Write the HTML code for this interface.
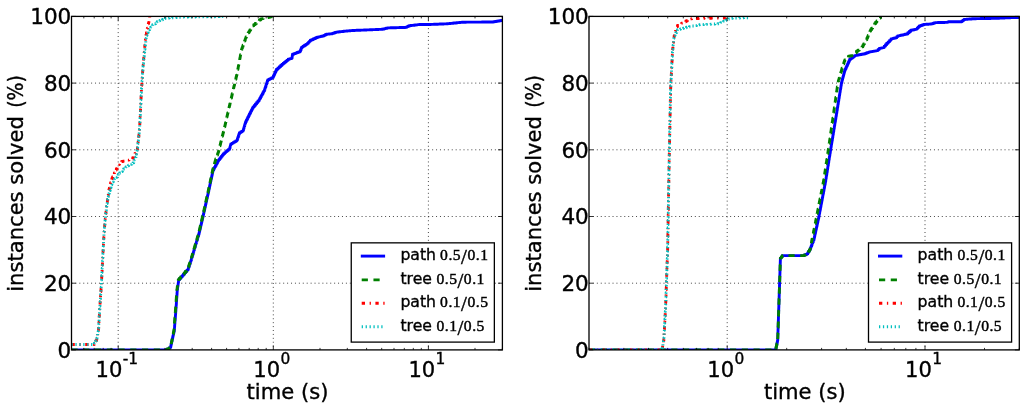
<!DOCTYPE html>
<html><head><meta charset="utf-8"><title>instances solved vs time</title>
<style>html,body{margin:0;padding:0;background:#fff;overflow:hidden}svg{display:block}text{font-family:"DejaVu Sans","Liberation Sans",sans-serif;fill:#000;stroke:#000;stroke-width:0.35px}.num{font-family:"Liberation Serif","DejaVu Serif",serif;stroke-width:0.45px}</style></head><body>
<svg width="1024" height="406" viewBox="0 0 1024 406">
<rect width="1024" height="406" fill="#fff"/>
<g id="ax0">
<path d="M71.5,283.2H502.4M71.5,216.5H502.4M71.5,149.8H502.4M71.5,83.1H502.4M118.2,16.4V349.9M273.3,16.4V349.9M428.4,16.4V349.9" fill="none" stroke="#000" stroke-width="0.8" stroke-dasharray="1 2.92" opacity="0.9"/>
<clipPath id="cp0"><rect x="71.5" y="16.4" width="430.85" height="333.50"/></clipPath>
<g clip-path="url(#cp0)" fill="none" stroke-linejoin="round">
<polyline points="71.50,349.90 165.50,349.90 166.72,349.90 166.72,349.27 167.95,349.27 167.95,348.65 169.18,348.65 169.18,348.02 170.40,348.02 170.40,347.40 170.72,347.40 170.72,345.92 171.05,345.92 171.05,344.45 171.38,344.45 171.38,342.97 171.70,342.97 171.70,341.50 172.03,341.50 172.03,340.02 172.35,340.02 172.35,338.55 172.68,338.55 172.68,337.07 173.00,337.07 173.00,335.60 173.33,335.60 173.33,334.12 173.65,334.12 173.65,332.65 173.98,332.65 173.98,331.18 174.30,331.18 174.30,329.70 174.41,329.70 174.41,328.23 174.53,328.23 174.53,326.76 174.64,326.76 174.64,325.29 174.76,325.29 174.76,323.81 174.87,323.81 174.87,322.34 174.99,322.34 174.99,320.87 175.10,320.87 175.10,319.40 175.21,319.40 175.21,317.93 175.33,317.93 175.33,316.46 175.44,316.46 175.44,314.99 175.56,314.99 175.56,313.51 175.67,313.51 175.67,312.04 175.79,312.04 175.79,310.57 175.90,310.57 175.90,309.10 176.00,309.10 176.00,307.69 176.10,307.69 176.10,306.29 176.20,306.29 176.20,304.88 176.30,304.88 176.30,303.47 176.40,303.47 176.40,302.06 176.50,302.06 176.50,300.66 176.60,300.66 176.60,299.25 176.70,299.25 176.70,297.84 176.80,297.84 176.80,296.44 176.90,296.44 176.90,295.03 177.00,295.03 177.00,293.62 177.10,293.62 177.10,292.21 177.20,292.21 177.20,290.81 177.30,290.81 177.30,289.40 177.50,289.40 177.50,288.00 177.70,288.00 177.70,286.60 177.90,286.60 177.90,285.20 178.10,285.20 178.10,283.80 178.30,283.80 178.30,282.40 178.50,282.40 178.50,281.00 178.70,281.00 178.70,279.60 179.87,279.60 179.87,278.27 181.03,278.27 181.03,276.93 182.20,276.93 182.20,275.60 183.38,275.60 183.38,274.22 184.56,274.22 184.56,272.84 185.74,272.84 185.74,271.46 186.92,271.46 186.92,270.08 188.10,270.08 188.10,268.70 188.60,268.70 188.60,267.23 189.10,267.23 189.10,265.77 189.60,265.77 189.60,264.30 190.10,264.30 190.10,262.83 190.60,262.83 190.60,261.37 191.10,261.37 191.10,259.90 191.51,259.90 191.51,258.49 191.93,258.49 191.93,257.07 192.34,257.07 192.34,255.66 192.76,255.66 192.76,254.24 193.17,254.24 193.17,252.83 193.59,252.83 193.59,251.41 194.00,251.41 194.00,250.00 194.42,250.00 194.42,248.59 194.83,248.59 194.83,247.18 195.25,247.18 195.25,245.78 195.67,245.78 195.67,244.37 196.08,244.37 196.08,242.96 196.50,242.96 196.50,241.55 196.92,241.55 196.92,240.14 197.33,240.14 197.33,238.73 197.75,238.73 197.75,237.32 198.17,237.32 198.17,235.92 198.58,235.92 198.58,234.51 199.00,234.51 199.00,233.10 199.32,233.10 199.32,231.70 199.65,231.70 199.65,230.30 199.97,230.30 199.97,228.90 200.30,228.90 200.30,227.50 200.62,227.50 200.62,226.10 200.95,226.10 200.95,224.70 201.28,224.70 201.28,223.30 201.60,223.30 201.60,221.90 201.93,221.90 201.93,220.50 202.25,220.50 202.25,219.10 202.58,219.10 202.58,217.70 202.90,217.70 202.90,216.30 203.23,216.30 203.23,214.82 203.56,214.82 203.56,213.34 203.88,213.34 203.88,211.87 204.21,211.87 204.21,210.39 204.54,210.39 204.54,208.91 204.87,208.91 204.87,207.43 205.19,207.43 205.19,205.96 205.52,205.96 205.52,204.48 205.85,204.48 205.85,203.00 206.18,203.00 206.18,201.52 206.51,201.52 206.51,200.04 206.83,200.04 206.83,198.57 207.16,198.57 207.16,197.09 207.49,197.09 207.49,195.61 207.82,195.61 207.82,194.13 208.14,194.13 208.14,192.66 208.47,192.66 208.47,191.18 208.80,191.18 208.80,189.70 209.10,189.70 209.10,188.29 209.40,188.29 209.40,186.89 209.70,186.89 209.70,185.48 210.00,185.48 210.00,184.07 210.30,184.07 210.30,182.66 210.60,182.66 210.60,181.26 210.90,181.26 210.90,179.85 211.20,179.85 211.20,178.44 211.50,178.44 211.50,177.04 211.80,177.04 211.80,175.63 212.10,175.63 212.10,174.22 212.40,174.22 212.40,172.81 212.70,172.81 212.70,171.41 213.00,171.41 213.00,170.00 213.79,170.00 213.79,168.56 214.57,168.56 214.57,167.11 215.36,167.11 215.36,165.67 216.14,165.67 216.14,164.23 216.93,164.23 216.93,162.79 217.71,162.79 217.71,161.34 218.50,161.34 218.50,159.90 219.48,159.90 219.48,158.66 220.46,158.66 220.46,157.42 221.44,157.42 221.44,156.18 222.42,156.18 222.42,154.94 223.40,154.94 223.40,153.70 224.64,153.70 224.64,152.62 225.88,152.62 225.88,151.54 227.12,151.54 227.12,150.46 228.36,150.46 228.36,149.38 229.60,149.38 229.60,148.30 230.00,148.30 230.00,146.83 230.40,146.83 230.40,145.37 230.80,145.37 230.80,143.90 232.02,143.90 232.02,143.16 233.24,143.16 233.24,142.42 234.46,142.42 234.46,141.68 235.68,141.68 235.68,140.94 236.90,140.94 236.90,140.20 237.40,140.20 237.40,138.72 237.90,138.72 237.90,137.24 238.40,137.24 238.40,135.76 238.90,135.76 238.90,134.28 239.40,134.28 239.40,132.80 240.63,132.80 240.63,131.97 241.87,131.97 241.87,131.13 243.10,131.13 243.10,130.30 243.52,130.30 243.52,128.87 243.93,128.87 243.93,127.43 244.35,127.43 244.35,126.00 244.77,126.00 244.77,124.57 245.18,124.57 245.18,123.13 245.60,123.13 245.60,121.70 246.34,121.70 246.34,120.22 247.08,120.22 247.08,118.74 247.82,118.74 247.82,117.26 248.56,117.26 248.56,115.78 249.30,115.78 249.30,114.30 250.04,114.30 250.04,112.82 250.78,112.82 250.78,111.34 251.52,111.34 251.52,109.86 252.26,109.86 252.26,108.38 253.00,108.38 253.00,106.90 254.22,106.90 254.22,105.44 255.44,105.44 255.44,103.98 256.66,103.98 256.66,102.52 257.88,102.52 257.88,101.06 259.10,101.06 259.10,99.60 259.87,99.60 259.87,98.19 260.64,98.19 260.64,96.77 261.41,96.77 261.41,95.36 262.19,95.36 262.19,93.94 262.96,93.94 262.96,92.53 263.73,92.53 263.73,91.11 264.50,91.11 264.50,89.70 264.96,89.70 264.96,88.30 265.41,88.30 265.41,86.90 265.87,86.90 265.87,85.50 266.33,85.50 266.33,84.10 266.79,84.10 266.79,82.70 267.24,82.70 267.24,81.30 267.70,81.30 267.70,79.90 268.95,79.90 268.95,79.28 270.20,79.28 270.20,78.65 271.45,78.65 271.45,78.03 272.70,78.03 272.70,77.40 273.33,77.40 273.33,76.05 273.97,76.05 273.97,74.70 274.60,74.70 274.60,73.35 275.23,73.35 275.23,72.00 275.87,72.00 275.87,70.65 276.50,70.65 276.50,69.30 277.88,69.30 277.88,68.05 279.25,68.05 279.25,66.80 280.62,66.80 280.62,65.55 282.00,65.55 282.00,64.30 283.24,64.30 283.24,63.28 284.48,63.28 284.48,62.26 285.72,62.26 285.72,61.24 286.96,61.24 286.96,60.22 288.20,60.22 288.20,59.20 289.43,59.20 289.43,58.87 290.67,58.87 290.67,58.53 291.90,58.53 291.90,58.20 292.10,58.20 292.10,56.87 292.30,56.87 292.30,55.53 292.50,55.53 292.50,54.20 293.98,54.20 293.98,53.64 295.46,53.64 295.46,53.08 296.94,53.08 296.94,52.52 298.42,52.52 298.42,51.96 299.90,51.96 299.90,51.40 300.50,51.40 300.50,49.97 301.10,49.97 301.10,48.53 301.70,48.53 301.70,47.10 303.10,47.10 303.10,46.17 304.50,46.17 304.50,45.25 305.90,45.25 305.90,44.33 307.30,44.33 307.30,43.40 308.30,43.40 308.30,42.37 309.30,42.37 309.30,41.33 310.30,41.33 310.30,40.30 311.66,40.30 311.66,39.68 313.02,39.68 313.02,39.06 314.38,39.06 314.38,38.44 315.74,38.44 315.74,37.82 317.10,37.82 317.10,37.20 318.50,37.20 318.50,36.90 319.90,36.90 319.90,36.60 321.30,36.60 321.30,36.30 322.70,36.30 322.70,36.00 323.93,36.00 323.93,35.40 325.17,35.40 325.17,34.80 326.40,34.80 326.40,34.20 327.62,34.20 327.62,34.10 328.85,34.10 328.85,34.00 330.07,34.00 330.07,33.90 331.30,33.90 331.30,33.80 332.52,33.80 332.52,33.38 333.75,33.38 333.75,32.95 334.98,32.95 334.98,32.52 336.20,32.52 336.20,32.10 337.68,32.10 337.68,31.94 339.16,31.94 339.16,31.78 340.64,31.78 340.64,31.62 342.12,31.62 342.12,31.46 343.60,31.46 343.60,31.30 345.02,31.30 345.02,31.17 346.43,31.17 346.43,31.03 347.85,31.03 347.85,30.90 349.27,30.90 349.27,30.77 350.68,30.77 350.68,30.63 352.10,30.63 352.10,30.50 353.58,30.50 353.58,30.44 355.05,30.44 355.05,30.38 356.53,30.38 356.53,30.32 358.00,30.32 358.00,30.26 359.48,30.26 359.48,30.20 360.95,30.20 360.95,30.14 362.43,30.14 362.43,30.08 363.90,30.08 363.90,30.02 365.38,30.02 365.38,29.96 366.85,29.96 366.85,29.90 368.33,29.90 368.33,29.84 369.80,29.84 369.80,29.78 371.28,29.78 371.28,29.72 372.75,29.72 372.75,29.66 374.23,29.66 374.23,29.60 375.70,29.60 375.70,29.54 377.18,29.54 377.18,29.48 378.65,29.48 378.65,29.42 380.12,29.42 380.12,29.36 381.60,29.36 381.60,29.30 383.08,29.30 383.08,28.95 384.55,28.95 384.55,28.60 386.02,28.60 386.02,28.25 387.50,28.25 387.50,27.90 388.99,27.90 388.99,27.86 390.48,27.86 390.48,27.82 391.98,27.82 391.98,27.77 393.47,27.77 393.47,27.73 394.96,27.73 394.96,27.69 396.45,27.69 396.45,27.65 397.94,27.65 397.94,27.61 399.43,27.61 399.43,27.57 400.92,27.57 400.92,27.52 402.42,27.52 402.42,27.48 403.91,27.48 403.91,27.44 405.40,27.44 405.40,27.40 406.63,27.40 406.63,26.83 407.87,26.83 407.87,26.27 409.10,26.27 409.10,25.70 410.54,25.70 410.54,25.53 411.99,25.53 411.99,25.36 413.43,25.36 413.43,25.19 414.87,25.19 414.87,25.01 416.31,25.01 416.31,24.84 417.76,24.84 417.76,24.67 419.20,24.67 419.20,24.50 428.20,24.50 429.63,24.50 429.63,24.45 431.06,24.45 431.06,24.39 432.49,24.39 432.49,24.34 433.92,24.34 433.92,24.28 435.35,24.28 435.35,24.23 436.78,24.23 436.78,24.18 438.22,24.18 438.22,24.12 439.65,24.12 439.65,24.07 441.08,24.07 441.08,24.02 442.51,24.02 442.51,23.96 443.94,23.96 443.94,23.91 445.37,23.91 445.37,23.85 446.80,23.85 446.80,23.80 448.17,23.80 448.17,23.65 449.55,23.65 449.55,23.51 450.92,23.51 450.92,23.36 452.29,23.36 452.29,23.22 453.66,23.22 453.66,23.07 455.04,23.07 455.04,22.93 456.41,22.93 456.41,22.78 457.78,22.78 457.78,22.64 459.15,22.64 459.15,22.49 460.53,22.49 460.53,22.35 461.90,22.35 461.90,22.20 463.33,22.20 463.33,22.19 464.77,22.19 464.77,22.18 466.20,22.18 466.20,22.17 467.63,22.17 467.63,22.16 469.07,22.16 469.07,22.15 470.50,22.15 470.50,22.14 471.93,22.14 471.93,22.13 473.37,22.13 473.37,22.12 474.80,22.12 474.80,22.11 476.23,22.11 476.23,22.10 477.67,22.10 477.67,22.10 479.10,22.10 479.10,22.09 480.53,22.09 480.53,22.08 481.97,22.08 481.97,22.07 483.40,22.07 483.40,22.06 484.83,22.06 484.83,22.05 486.27,22.05 486.27,22.04 487.70,22.04 487.70,22.03 489.13,22.03 489.13,22.02 490.57,22.02 490.57,22.01 492.00,22.01 492.00,22.00 493.50,22.00 493.50,21.76 495.00,21.76 495.00,21.51 496.50,21.51 496.50,21.27 498.00,21.27 498.00,21.03 499.50,21.03 499.50,20.79 501.00,20.79 501.00,20.54 502.50,20.54 502.50,20.30" stroke="#0000ff" stroke-width="2.9"/>
<polyline points="71.50,349.90 165.50,349.90 166.72,349.90 166.72,349.27 167.95,349.27 167.95,348.65 169.18,348.65 169.18,348.02 170.40,348.02 170.40,347.40 170.69,347.40 170.69,345.92 170.98,345.92 170.98,344.45 171.28,344.45 171.28,342.97 171.57,342.97 171.57,341.50 171.86,341.50 171.86,340.02 172.15,340.02 172.15,338.55 172.44,338.55 172.44,337.07 172.73,337.07 172.73,335.60 173.03,335.60 173.03,334.12 173.32,334.12 173.32,332.65 173.61,332.65 173.61,331.18 173.90,331.18 173.90,329.70 174.01,329.70 174.01,328.23 174.13,328.23 174.13,326.76 174.24,326.76 174.24,325.29 174.36,325.29 174.36,323.81 174.47,323.81 174.47,322.34 174.59,322.34 174.59,320.87 174.70,320.87 174.70,319.40 174.81,319.40 174.81,317.93 174.93,317.93 174.93,316.46 175.04,316.46 175.04,314.99 175.16,314.99 175.16,313.51 175.27,313.51 175.27,312.04 175.39,312.04 175.39,310.57 175.50,310.57 175.50,309.10 175.60,309.10 175.60,307.69 175.70,307.69 175.70,306.29 175.80,306.29 175.80,304.88 175.90,304.88 175.90,303.47 176.00,303.47 176.00,302.06 176.10,302.06 176.10,300.66 176.20,300.66 176.20,299.25 176.30,299.25 176.30,297.84 176.40,297.84 176.40,296.44 176.50,296.44 176.50,295.03 176.60,295.03 176.60,293.62 176.70,293.62 176.70,292.21 176.80,292.21 176.80,290.81 176.90,290.81 176.90,289.40 177.10,289.40 177.10,288.00 177.30,288.00 177.30,286.60 177.50,286.60 177.50,285.20 177.70,285.20 177.70,283.80 177.90,283.80 177.90,282.40 178.10,282.40 178.10,281.00 178.30,281.00 178.30,279.60 179.47,279.60 179.47,278.27 180.63,278.27 180.63,276.93 181.80,276.93 181.80,275.60 182.98,275.60 182.98,274.22 184.16,274.22 184.16,272.84 185.34,272.84 185.34,271.46 186.52,271.46 186.52,270.08 187.70,270.08 187.70,268.70 188.20,268.70 188.20,267.23 188.70,267.23 188.70,265.77 189.20,265.77 189.20,264.30 189.70,264.30 189.70,262.83 190.20,262.83 190.20,261.37 190.70,261.37 190.70,259.90 191.11,259.90 191.11,258.49 191.53,258.49 191.53,257.07 191.94,257.07 191.94,255.66 192.36,255.66 192.36,254.24 192.77,254.24 192.77,252.83 193.19,252.83 193.19,251.41 193.60,251.41 193.60,250.00 194.02,250.00 194.02,248.59 194.43,248.59 194.43,247.18 194.85,247.18 194.85,245.78 195.27,245.78 195.27,244.37 195.68,244.37 195.68,242.96 196.10,242.96 196.10,241.55 196.52,241.55 196.52,240.14 196.93,240.14 196.93,238.73 197.35,238.73 197.35,237.32 197.77,237.32 197.77,235.92 198.18,235.92 198.18,234.51 198.60,234.51 198.60,233.10 198.92,233.10 198.92,231.70 199.25,231.70 199.25,230.30 199.57,230.30 199.57,228.90 199.90,228.90 199.90,227.50 200.22,227.50 200.22,226.10 200.55,226.10 200.55,224.70 200.88,224.70 200.88,223.30 201.20,223.30 201.20,221.90 201.53,221.90 201.53,220.50 201.85,220.50 201.85,219.10 202.18,219.10 202.18,217.70 202.50,217.70 202.50,216.30 202.83,216.30 202.83,214.82 203.16,214.82 203.16,213.34 203.48,213.34 203.48,211.87 203.81,211.87 203.81,210.39 204.14,210.39 204.14,208.91 204.47,208.91 204.47,207.43 204.79,207.43 204.79,205.96 205.12,205.96 205.12,204.48 205.45,204.48 205.45,203.00 205.78,203.00 205.78,201.52 206.11,201.52 206.11,200.04 206.43,200.04 206.43,198.57 206.76,198.57 206.76,197.09 207.09,197.09 207.09,195.61 207.42,195.61 207.42,194.13 207.74,194.13 207.74,192.66 208.07,192.66 208.07,191.18 208.40,191.18 208.40,189.70 208.70,189.70 208.70,188.29 209.00,188.29 209.00,186.89 209.30,186.89 209.30,185.48 209.60,185.48 209.60,184.07 209.90,184.07 209.90,182.66 210.20,182.66 210.20,181.26 210.50,181.26 210.50,179.85 210.80,179.85 210.80,178.44 211.10,178.44 211.10,177.04 211.40,177.04 211.40,175.63 211.70,175.63 211.70,174.22 212.00,174.22 212.00,172.81 212.30,172.81 212.30,171.41 212.60,171.41 212.60,170.00 212.99,170.00 212.99,168.62 213.38,168.62 213.38,167.25 213.76,167.25 213.76,165.88 214.15,165.88 214.15,164.50 214.54,164.50 214.54,163.12 214.92,163.12 214.92,161.75 215.31,161.75 215.31,160.38 215.70,160.38 215.70,159.00 216.17,159.00 216.17,157.72 216.63,157.72 216.63,156.43 217.10,156.43 217.10,155.15 217.57,155.15 217.57,153.87 218.03,153.87 218.03,152.58 218.50,152.58 218.50,151.30 218.83,151.30 218.83,149.93 219.17,149.93 219.17,148.57 219.50,148.57 219.50,147.20 219.83,147.20 219.83,145.83 220.17,145.83 220.17,144.47 220.50,144.47 220.50,143.10 220.83,143.10 220.83,141.73 221.17,141.73 221.17,140.37 221.50,140.37 221.50,139.00 221.84,139.00 221.84,137.63 222.19,137.63 222.19,136.27 222.53,136.27 222.53,134.90 222.88,134.90 222.88,133.53 223.22,133.53 223.22,132.17 223.57,132.17 223.57,130.80 223.91,130.80 223.91,129.43 224.26,129.43 224.26,128.07 224.60,128.07 224.60,126.70 224.91,126.70 224.91,125.33 225.22,125.33 225.22,123.96 225.53,123.96 225.53,122.59 225.84,122.59 225.84,121.22 226.15,121.22 226.15,119.85 226.46,119.85 226.46,118.48 226.77,118.48 226.77,117.11 227.08,117.11 227.08,115.74 227.39,115.74 227.39,114.37 227.70,114.37 227.70,113.00 228.04,113.00 228.04,111.51 228.39,111.51 228.39,110.02 228.73,110.02 228.73,108.53 229.08,108.53 229.08,107.04 229.42,107.04 229.42,105.56 229.77,105.56 229.77,104.07 230.11,104.07 230.11,102.58 230.46,102.58 230.46,101.09 230.80,101.09 230.80,99.60 231.14,99.60 231.14,98.15 231.48,98.15 231.48,96.70 231.81,96.70 231.81,95.25 232.15,95.25 232.15,93.80 232.49,93.80 232.49,92.35 232.82,92.35 232.82,90.90 233.16,90.90 233.16,89.45 233.50,89.45 233.50,88.00 233.84,88.00 233.84,86.57 234.18,86.57 234.18,85.14 234.52,85.14 234.52,83.71 234.86,83.71 234.86,82.28 235.20,82.28 235.20,80.85 235.54,80.85 235.54,79.42 235.88,79.42 235.88,77.99 236.22,77.99 236.22,76.56 236.56,76.56 236.56,75.13 236.90,75.13 236.90,73.70 237.16,73.70 237.16,72.33 237.42,72.33 237.42,70.96 237.68,70.96 237.68,69.59 237.94,69.59 237.94,68.22 238.20,68.22 238.20,66.85 238.46,66.85 238.46,65.48 238.72,65.48 238.72,64.11 238.98,64.11 238.98,62.74 239.24,62.74 239.24,61.37 239.50,61.37 239.50,60.00 239.75,60.00 239.75,58.67 240.00,58.67 240.00,57.35 240.25,57.35 240.25,56.02 240.50,56.02 240.50,54.70 240.75,54.70 240.75,53.38 241.00,53.38 241.00,52.05 241.25,52.05 241.25,50.72 241.50,50.72 241.50,49.40 242.00,49.40 242.00,48.02 242.50,48.02 242.50,46.64 243.00,46.64 243.00,45.26 243.50,45.26 243.50,43.88 244.00,43.88 244.00,42.50 244.50,42.50 244.50,41.12 245.00,41.12 245.00,39.74 245.50,39.74 245.50,38.36 246.00,38.36 246.00,36.98 246.50,36.98 246.50,35.60 247.34,35.60 247.34,34.20 248.19,34.20 248.19,32.80 249.03,32.80 249.03,31.40 249.87,31.40 249.87,30.00 250.71,30.00 250.71,28.60 251.56,28.60 251.56,27.20 252.40,27.20 252.40,25.80 253.78,25.80 253.78,24.65 255.17,24.65 255.17,23.50 256.55,23.50 256.55,22.35 257.93,22.35 257.93,21.20 259.32,21.20 259.32,20.05 260.70,20.05 260.70,18.90 262.02,18.90 262.02,18.61 263.35,18.61 263.35,18.32 264.68,18.32 264.68,18.04 266.00,18.04 266.00,17.75 267.32,17.75 267.32,17.46 268.65,17.46 268.65,17.18 269.98,17.18 269.98,16.89 271.30,16.89 271.30,16.60" stroke="#008000" stroke-width="2.9" stroke-dasharray="6.2 5.55"/>
<polyline points="71.50,344.50 93.60,344.50 94.32,344.50 94.32,343.27 95.05,343.27 95.05,342.05 95.78,342.05 95.78,340.83 96.50,340.83 96.50,339.60 96.79,339.60 96.79,338.19 97.07,338.19 97.07,336.77 97.36,336.77 97.36,335.36 97.64,335.36 97.64,333.94 97.93,333.94 97.93,332.53 98.21,332.53 98.21,331.11 98.50,331.11 98.50,329.70 98.58,329.70 98.58,328.22 98.67,328.22 98.67,326.75 98.75,326.75 98.75,325.27 98.83,325.27 98.83,323.80 98.92,323.80 98.92,322.32 99.00,322.32 99.00,320.85 99.08,320.85 99.08,319.38 99.17,319.38 99.17,317.90 99.25,317.90 99.25,316.43 99.33,316.43 99.33,314.95 99.42,314.95 99.42,313.48 99.50,313.48 99.50,312.00 99.59,312.00 99.59,310.55 99.69,310.55 99.69,309.09 99.78,309.09 99.78,307.63 99.88,307.63 99.88,306.18 99.97,306.18 99.97,304.73 100.07,304.73 100.07,303.27 100.17,303.27 100.17,301.81 100.26,301.81 100.26,300.36 100.36,300.36 100.36,298.90 100.45,298.90 100.45,297.45 100.55,297.45 100.55,296.00 100.64,296.00 100.64,294.54 100.73,294.54 100.73,293.08 100.83,293.08 100.83,291.63 100.93,291.63 100.93,290.17 101.02,290.17 101.02,288.72 101.12,288.72 101.12,287.26 101.21,287.26 101.21,285.81 101.31,285.81 101.31,284.35 101.40,284.35 101.40,282.90 101.48,282.90 101.48,281.43 101.55,281.43 101.55,279.96 101.63,279.96 101.63,278.49 101.70,278.49 101.70,277.01 101.78,277.01 101.78,275.54 101.86,275.54 101.86,274.07 101.93,274.07 101.93,272.60 102.01,272.60 102.01,271.13 102.09,271.13 102.09,269.66 102.16,269.66 102.16,268.19 102.24,268.19 102.24,266.71 102.31,266.71 102.31,265.24 102.39,265.24 102.39,263.77 102.47,263.77 102.47,262.30 102.54,262.30 102.54,260.83 102.62,260.83 102.62,259.36 102.70,259.36 102.70,257.89 102.77,257.89 102.77,256.41 102.85,256.41 102.85,254.94 102.92,254.94 102.92,253.47 103.00,253.47 103.00,252.00 103.08,252.00 103.08,250.55 103.15,250.55 103.15,249.09 103.23,249.09 103.23,247.64 103.31,247.64 103.31,246.18 103.38,246.18 103.38,244.73 103.46,244.73 103.46,243.28 103.54,243.28 103.54,241.82 103.62,241.82 103.62,240.37 103.69,240.37 103.69,238.92 103.77,238.92 103.77,237.46 103.85,237.46 103.85,236.01 103.92,236.01 103.92,234.55 104.00,234.55 104.00,233.10 104.12,233.10 104.12,231.70 104.23,231.70 104.23,230.30 104.35,230.30 104.35,228.90 104.47,228.90 104.47,227.50 104.58,227.50 104.58,226.10 104.70,226.10 104.70,224.70 104.82,224.70 104.82,223.30 104.93,223.30 104.93,221.90 105.05,221.90 105.05,220.50 105.17,220.50 105.17,219.10 105.28,219.10 105.28,217.70 105.40,217.70 105.40,216.30 105.58,216.30 105.58,214.88 105.76,214.88 105.76,213.46 105.93,213.46 105.93,212.03 106.11,212.03 106.11,210.61 106.29,210.61 106.29,209.19 106.47,209.19 106.47,207.77 106.64,207.77 106.64,206.34 106.82,206.34 106.82,204.92 107.00,204.92 107.00,203.50 107.19,203.50 107.19,202.12 107.38,202.12 107.38,200.74 107.57,200.74 107.57,199.36 107.76,199.36 107.76,197.98 107.95,197.98 107.95,196.60 108.14,196.60 108.14,195.22 108.33,195.22 108.33,193.84 108.52,193.84 108.52,192.46 108.71,192.46 108.71,191.08 108.90,191.08 108.90,189.70 109.24,189.70 109.24,188.30 109.59,188.30 109.59,186.90 109.93,186.90 109.93,185.50 110.27,185.50 110.27,184.10 110.61,184.10 110.61,182.70 110.96,182.70 110.96,181.30 111.30,181.30 111.30,179.90 111.91,179.90 111.91,178.49 112.53,178.49 112.53,177.07 113.14,177.07 113.14,175.66 113.76,175.66 113.76,174.24 114.37,174.24 114.37,172.83 114.99,172.83 114.99,171.41 115.60,171.41 115.60,170.00 116.37,170.00 116.37,168.65 117.13,168.65 117.13,167.30 117.90,167.30 117.90,165.95 118.67,165.95 118.67,164.60 119.43,164.60 119.43,163.25 120.20,163.25 120.20,161.90 121.67,161.90 121.67,161.54 123.15,161.54 123.15,161.18 124.62,161.18 124.62,160.81 126.10,160.81 126.10,160.45 127.58,160.45 127.58,160.09 129.05,160.09 129.05,159.72 130.53,159.72 130.53,159.36 132.00,159.36 132.00,159.00 132.76,159.00 132.76,157.59 133.51,157.59 133.51,156.17 134.27,156.17 134.27,154.76 135.03,154.76 135.03,153.34 135.79,153.34 135.79,151.93 136.54,151.93 136.54,150.51 137.30,150.51 137.30,149.10 137.46,149.10 137.46,147.69 137.61,147.69 137.61,146.29 137.77,146.29 137.77,144.88 137.93,144.88 137.93,143.47 138.09,143.47 138.09,142.06 138.24,142.06 138.24,140.66 138.40,140.66 138.40,139.25 138.56,139.25 138.56,137.84 138.71,137.84 138.71,136.44 138.87,136.44 138.87,135.03 139.03,135.03 139.03,133.62 139.19,133.62 139.19,132.21 139.34,132.21 139.34,130.81 139.50,130.81 139.50,129.40 139.57,129.40 139.57,127.99 139.64,127.99 139.64,126.59 139.71,126.59 139.71,125.18 139.79,125.18 139.79,123.77 139.86,123.77 139.86,122.36 139.93,122.36 139.93,120.96 140.00,120.96 140.00,119.55 140.07,119.55 140.07,118.14 140.14,118.14 140.14,116.74 140.21,116.74 140.21,115.33 140.29,115.33 140.29,113.92 140.36,113.92 140.36,112.51 140.43,112.51 140.43,111.11 140.50,111.11 140.50,109.70 140.56,109.70 140.56,108.29 140.63,108.29 140.63,106.89 140.69,106.89 140.69,105.48 140.76,105.48 140.76,104.07 140.82,104.07 140.82,102.66 140.89,102.66 140.89,101.26 140.95,101.26 140.95,99.85 141.01,99.85 141.01,98.44 141.08,98.44 141.08,97.04 141.14,97.04 141.14,95.63 141.21,95.63 141.21,94.22 141.27,94.22 141.27,92.81 141.34,92.81 141.34,91.41 141.40,91.41 141.40,90.00 141.50,90.00 141.50,88.51 141.60,88.51 141.60,87.01 141.70,87.01 141.70,85.52 141.80,85.52 141.80,84.03 141.90,84.03 141.90,82.54 142.00,82.54 142.00,81.04 142.10,81.04 142.10,79.55 142.20,79.55 142.20,78.06 142.30,78.06 142.30,76.56 142.40,76.56 142.40,75.07 142.50,75.07 142.50,73.58 142.60,73.58 142.60,72.09 142.70,72.09 142.70,70.59 142.80,70.59 142.80,69.10 142.91,69.10 142.91,67.69 143.03,67.69 143.03,66.29 143.14,66.29 143.14,64.88 143.26,64.88 143.26,63.47 143.37,63.47 143.37,62.06 143.49,62.06 143.49,60.66 143.60,60.66 143.60,59.25 143.71,59.25 143.71,57.84 143.83,57.84 143.83,56.44 143.94,56.44 143.94,55.03 144.06,55.03 144.06,53.62 144.17,53.62 144.17,52.21 144.29,52.21 144.29,50.81 144.40,50.81 144.40,49.40 144.54,49.40 144.54,48.02 144.68,48.02 144.68,46.64 144.82,46.64 144.82,45.26 144.96,45.26 144.96,43.88 145.10,43.88 145.10,42.50 145.24,42.50 145.24,41.12 145.38,41.12 145.38,39.74 145.52,39.74 145.52,38.36 145.66,38.36 145.66,36.98 145.80,36.98 145.80,35.60 146.11,35.60 146.11,34.12 146.43,34.12 146.43,32.65 146.74,32.65 146.74,31.18 147.05,31.18 147.05,29.70 147.36,29.70 147.36,28.23 147.68,28.23 147.68,26.75 147.99,26.75 147.99,25.27 148.30,25.27 148.30,23.80 148.58,23.80 148.58,22.44 148.86,22.44 148.86,21.08 149.14,21.08 149.14,19.72 149.42,19.72 149.42,18.36 149.70,18.36 149.70,17.00" stroke="#ff0000" stroke-width="2.9" stroke-dasharray="3.3 4.6 1.3 4.5"/>
<polyline points="71.50,344.50 93.60,344.50 94.32,344.50 94.32,343.27 95.05,343.27 95.05,342.05 95.78,342.05 95.78,340.83 96.50,340.83 96.50,339.60 96.79,339.60 96.79,338.19 97.07,338.19 97.07,336.77 97.36,336.77 97.36,335.36 97.64,335.36 97.64,333.94 97.93,333.94 97.93,332.53 98.21,332.53 98.21,331.11 98.50,331.11 98.50,329.70 98.58,329.70 98.58,328.22 98.67,328.22 98.67,326.75 98.75,326.75 98.75,325.27 98.83,325.27 98.83,323.80 98.92,323.80 98.92,322.32 99.00,322.32 99.00,320.85 99.08,320.85 99.08,319.38 99.17,319.38 99.17,317.90 99.25,317.90 99.25,316.43 99.33,316.43 99.33,314.95 99.42,314.95 99.42,313.48 99.50,313.48 99.50,312.00 99.59,312.00 99.59,310.55 99.69,310.55 99.69,309.09 99.78,309.09 99.78,307.63 99.88,307.63 99.88,306.18 99.97,306.18 99.97,304.73 100.07,304.73 100.07,303.27 100.17,303.27 100.17,301.81 100.26,301.81 100.26,300.36 100.36,300.36 100.36,298.90 100.45,298.90 100.45,297.45 100.55,297.45 100.55,296.00 100.64,296.00 100.64,294.54 100.73,294.54 100.73,293.08 100.83,293.08 100.83,291.63 100.93,291.63 100.93,290.17 101.02,290.17 101.02,288.72 101.12,288.72 101.12,287.26 101.21,287.26 101.21,285.81 101.31,285.81 101.31,284.35 101.40,284.35 101.40,282.90 101.48,282.90 101.48,281.43 101.55,281.43 101.55,279.96 101.63,279.96 101.63,278.49 101.70,278.49 101.70,277.01 101.78,277.01 101.78,275.54 101.86,275.54 101.86,274.07 101.93,274.07 101.93,272.60 102.01,272.60 102.01,271.13 102.09,271.13 102.09,269.66 102.16,269.66 102.16,268.19 102.24,268.19 102.24,266.71 102.31,266.71 102.31,265.24 102.39,265.24 102.39,263.77 102.47,263.77 102.47,262.30 102.54,262.30 102.54,260.83 102.62,260.83 102.62,259.36 102.70,259.36 102.70,257.89 102.77,257.89 102.77,256.41 102.85,256.41 102.85,254.94 102.92,254.94 102.92,253.47 103.00,253.47 103.00,252.00 103.08,252.00 103.08,250.55 103.15,250.55 103.15,249.09 103.23,249.09 103.23,247.64 103.31,247.64 103.31,246.18 103.38,246.18 103.38,244.73 103.46,244.73 103.46,243.28 103.54,243.28 103.54,241.82 103.62,241.82 103.62,240.37 103.69,240.37 103.69,238.92 103.77,238.92 103.77,237.46 103.85,237.46 103.85,236.01 103.92,236.01 103.92,234.55 104.00,234.55 104.00,233.10 104.12,233.10 104.12,231.70 104.23,231.70 104.23,230.30 104.35,230.30 104.35,228.90 104.47,228.90 104.47,227.50 104.58,227.50 104.58,226.10 104.70,226.10 104.70,224.70 104.82,224.70 104.82,223.30 104.93,223.30 104.93,221.90 105.05,221.90 105.05,220.50 105.17,220.50 105.17,219.10 105.28,219.10 105.28,217.70 105.40,217.70 105.40,216.30 105.58,216.30 105.58,214.88 105.76,214.88 105.76,213.46 105.93,213.46 105.93,212.03 106.11,212.03 106.11,210.61 106.29,210.61 106.29,209.19 106.47,209.19 106.47,207.77 106.64,207.77 106.64,206.34 106.82,206.34 106.82,204.92 107.00,204.92 107.00,203.50 107.27,203.50 107.27,202.09 107.54,202.09 107.54,200.67 107.81,200.67 107.81,199.26 108.09,199.26 108.09,197.84 108.36,197.84 108.36,196.43 108.63,196.43 108.63,195.01 108.90,195.01 108.90,193.60 109.33,193.60 109.33,192.12 109.75,192.12 109.75,190.65 110.17,190.65 110.17,189.18 110.60,189.18 110.60,187.70 111.03,187.70 111.03,186.22 111.45,186.22 111.45,184.75 111.88,184.75 111.88,183.28 112.30,183.28 112.30,181.80 113.42,181.80 113.42,180.33 114.55,180.33 114.55,178.85 115.67,178.85 115.67,177.38 116.80,177.38 116.80,175.90 118.20,175.90 118.20,174.43 119.60,174.43 119.60,172.95 121.00,172.95 121.00,171.47 122.40,171.47 122.40,170.00 123.58,170.00 123.58,168.97 124.75,168.97 124.75,167.95 125.92,167.95 125.92,166.93 127.10,166.93 127.10,165.90 128.57,165.90 128.57,165.15 130.05,165.15 130.05,164.40 131.53,164.40 131.53,163.65 133.00,163.65 133.00,162.90 133.72,162.90 133.72,161.43 134.45,161.43 134.45,159.95 135.18,159.95 135.18,158.47 135.90,158.47 135.90,157.00 136.13,157.00 136.13,155.68 136.37,155.68 136.37,154.37 136.60,154.37 136.60,153.05 136.83,153.05 136.83,151.73 137.07,151.73 137.07,150.42 137.30,150.42 137.30,149.10 137.46,149.10 137.46,147.69 137.61,147.69 137.61,146.29 137.77,146.29 137.77,144.88 137.93,144.88 137.93,143.47 138.09,143.47 138.09,142.06 138.24,142.06 138.24,140.66 138.40,140.66 138.40,139.25 138.56,139.25 138.56,137.84 138.71,137.84 138.71,136.44 138.87,136.44 138.87,135.03 139.03,135.03 139.03,133.62 139.19,133.62 139.19,132.21 139.34,132.21 139.34,130.81 139.50,130.81 139.50,129.40 139.57,129.40 139.57,127.99 139.64,127.99 139.64,126.59 139.71,126.59 139.71,125.18 139.79,125.18 139.79,123.77 139.86,123.77 139.86,122.36 139.93,122.36 139.93,120.96 140.00,120.96 140.00,119.55 140.07,119.55 140.07,118.14 140.14,118.14 140.14,116.74 140.21,116.74 140.21,115.33 140.29,115.33 140.29,113.92 140.36,113.92 140.36,112.51 140.43,112.51 140.43,111.11 140.50,111.11 140.50,109.70 140.56,109.70 140.56,108.29 140.63,108.29 140.63,106.89 140.69,106.89 140.69,105.48 140.76,105.48 140.76,104.07 140.82,104.07 140.82,102.66 140.89,102.66 140.89,101.26 140.95,101.26 140.95,99.85 141.01,99.85 141.01,98.44 141.08,98.44 141.08,97.04 141.14,97.04 141.14,95.63 141.21,95.63 141.21,94.22 141.27,94.22 141.27,92.81 141.34,92.81 141.34,91.41 141.40,91.41 141.40,90.00 141.50,90.00 141.50,88.51 141.60,88.51 141.60,87.01 141.70,87.01 141.70,85.52 141.80,85.52 141.80,84.03 141.90,84.03 141.90,82.54 142.00,82.54 142.00,81.04 142.10,81.04 142.10,79.55 142.20,79.55 142.20,78.06 142.30,78.06 142.30,76.56 142.40,76.56 142.40,75.07 142.50,75.07 142.50,73.58 142.60,73.58 142.60,72.09 142.70,72.09 142.70,70.59 142.80,70.59 142.80,69.10 142.94,69.10 142.94,67.69 143.09,67.69 143.09,66.29 143.23,66.29 143.23,64.88 143.37,64.88 143.37,63.47 143.51,63.47 143.51,62.06 143.66,62.06 143.66,60.66 143.80,60.66 143.80,59.25 143.94,59.25 143.94,57.84 144.09,57.84 144.09,56.44 144.23,56.44 144.23,55.03 144.37,55.03 144.37,53.62 144.51,53.62 144.51,52.21 144.66,52.21 144.66,50.81 144.80,50.81 144.80,49.40 144.96,49.40 144.96,48.02 145.12,48.02 145.12,46.64 145.28,46.64 145.28,45.26 145.44,45.26 145.44,43.88 145.60,43.88 145.60,42.50 145.76,42.50 145.76,41.12 145.92,41.12 145.92,39.74 146.08,39.74 146.08,38.36 146.24,38.36 146.24,36.98 146.40,36.98 146.40,35.60 146.97,35.60 146.97,34.12 147.55,34.12 147.55,32.65 148.12,32.65 148.12,31.18 148.70,31.18 148.70,29.70 149.70,29.70 149.70,28.48 150.70,28.48 150.70,27.25 151.70,27.25 151.70,26.02 152.70,26.02 152.70,24.80 154.17,24.80 154.17,23.80 155.65,23.80 155.65,22.80 157.12,22.80 157.12,21.80 158.60,21.80 158.60,20.80 159.92,20.80 159.92,20.35 161.23,20.35 161.23,19.90 162.55,19.90 162.55,19.45 163.87,19.45 163.87,19.00 165.18,19.00 165.18,18.55 166.50,18.55 166.50,18.10 167.93,18.10 167.93,18.01 169.35,18.01 169.35,17.92 170.78,17.92 170.78,17.83 172.21,17.83 172.21,17.74 173.64,17.74 173.64,17.65 175.06,17.65 175.06,17.55 176.49,17.55 176.49,17.46 177.92,17.46 177.92,17.37 179.35,17.37 179.35,17.28 180.77,17.28 180.77,17.19 182.20,17.19 182.20,17.10 183.68,17.10 183.68,17.08 185.16,17.08 185.16,17.06 186.64,17.06 186.64,17.05 188.11,17.05 188.11,17.03 189.59,17.03 189.59,17.01 191.07,17.01 191.07,16.99 192.55,16.99 192.55,16.98 194.03,16.98 194.03,16.96 195.51,16.96 195.51,16.94 196.99,16.94 196.99,16.92 198.46,16.92 198.46,16.90 199.94,16.90 199.94,16.89 201.42,16.89 201.42,16.87 202.90,16.87 202.90,16.85 204.38,16.85 204.38,16.83 205.86,16.83 205.86,16.81 207.34,16.81 207.34,16.80 208.81,16.80 208.81,16.78 210.29,16.78 210.29,16.76 211.77,16.76 211.77,16.74 213.25,16.74 213.25,16.73 214.73,16.73 214.73,16.71 216.21,16.71 216.21,16.69 217.69,16.69 217.69,16.67 219.16,16.67 219.16,16.65 220.64,16.65 220.64,16.64 222.12,16.64 222.12,16.62 223.60,16.62 223.60,16.60" stroke="#00bfbf" stroke-width="2.9" stroke-dasharray="1.25 2.67"/>
</g>
<path d="M71.5,349.9h4.4M502.4,349.9h-4.4M71.5,283.2h4.4M502.4,283.2h-4.4M71.5,216.5h4.4M502.4,216.5h-4.4M71.5,149.8h4.4M502.4,149.8h-4.4M71.5,83.1h4.4M502.4,83.1h-4.4M71.5,16.4h4.4M502.4,16.4h-4.4M118.2,349.9v-4.4M118.2,16.4v4.4M273.3,349.9v-4.4M273.3,16.4v4.4M428.4,349.9v-4.4M428.4,16.4v4.4M71.5,349.9v-2.0M71.5,16.4v2.0M83.8,349.9v-2.0M83.8,16.4v2.0M94.2,349.9v-2.0M94.2,16.4v2.0M103.2,349.9v-2.0M103.2,16.4v2.0M111.1,349.9v-2.0M111.1,16.4v2.0M164.9,349.9v-2.0M164.9,16.4v2.0M192.2,349.9v-2.0M192.2,16.4v2.0M211.6,349.9v-2.0M211.6,16.4v2.0M226.6,349.9v-2.0M226.6,16.4v2.0M238.9,349.9v-2.0M238.9,16.4v2.0M249.2,349.9v-2.0M249.2,16.4v2.0M258.2,349.9v-2.0M258.2,16.4v2.0M266.2,349.9v-2.0M266.2,16.4v2.0M320.0,349.9v-2.0M320.0,16.4v2.0M347.3,349.9v-2.0M347.3,16.4v2.0M366.6,349.9v-2.0M366.6,16.4v2.0M381.7,349.9v-2.0M381.7,16.4v2.0M394.0,349.9v-2.0M394.0,16.4v2.0M404.3,349.9v-2.0M404.3,16.4v2.0M413.3,349.9v-2.0M413.3,16.4v2.0M421.3,349.9v-2.0M421.3,16.4v2.0M475.0,349.9v-2.0M475.0,16.4v2.0M502.4,349.9v-2.0M502.4,16.4v2.0" fill="none" stroke="#000" stroke-width="0.8"/>
<rect x="71.5" y="16.4" width="430.9" height="333.5" fill="none" stroke="#000" stroke-width="1.3"/>
<text transform="translate(71.3,357.7) scale(1.05,1)" font-size="20.5" text-anchor="end">0</text>
<text transform="translate(71.3,291.0) scale(1.05,1)" font-size="20.5" text-anchor="end">20</text>
<text transform="translate(71.3,224.3) scale(1.05,1)" font-size="20.5" text-anchor="end">40</text>
<text transform="translate(71.3,157.6) scale(1.05,1)" font-size="20.5" text-anchor="end">60</text>
<text transform="translate(71.3,90.9) scale(1.05,1)" font-size="20.5" text-anchor="end">80</text>
<text transform="translate(71.3,24.2) scale(1.05,1)" font-size="20.5" text-anchor="end">100</text>
<text transform="translate(95.5,376.7) scale(1.03,1)" font-size="20.5">10<tspan font-size="15.0" dx="0.3" dy="-12.6">-1</tspan></text>
<text transform="translate(253.3,376.7) scale(1.03,1)" font-size="20.5">10<tspan font-size="15.0" dx="0.3" dy="-12.6">0</tspan></text>
<text transform="translate(408.4,376.7) scale(1.03,1)" font-size="20.5">10<tspan font-size="15.0" dx="0.3" dy="-12.6">1</tspan></text>
<text x="287.5" y="399.0" font-size="21.1" text-anchor="middle">time (s)</text>
<g transform="translate(23.15,183.15) rotate(-90)" font-size="21.1"><text x="-108.6" y="0">instances solved</text><text transform="translate(75.3,0) scale(0.9,1)">(%)</text></g>
<rect x="351.25" y="242.85" width="143.1" height="99.25" fill="#fff" stroke="#000" stroke-width="1.3"/>
<path d="M360.8,256.1h24.3" fill="none" stroke="#0000ff" stroke-width="2.9"/>
<text x="400.4" y="260.4" font-size="15.7">path</text>
<text class="num" x="440.1" y="260.4" font-size="15.6" letter-spacing="0.5">0.5<tspan font-size="21" dy="3.7">/</tspan><tspan dy="-3.7">0.1</tspan></text>
<path d="M361.7,279.9h23.4" fill="none" stroke="#008000" stroke-width="2.9" stroke-dasharray="6.2 5.55"/>
<text x="400.4" y="283.9" font-size="15.7">tree</text>
<text class="num" x="436.5" y="283.9" font-size="15.6" letter-spacing="0.5">0.5<tspan font-size="21" dy="3.7">/</tspan><tspan dy="-3.7">0.1</tspan></text>
<path d="M361.7,303.3h23.4" fill="none" stroke="#ff0000" stroke-width="2.9" stroke-dasharray="3.3 4.6 1.3 4.5"/>
<text x="400.4" y="307.3" font-size="15.7">path</text>
<text class="num" x="440.1" y="307.3" font-size="15.6" letter-spacing="0.5">0.1<tspan font-size="21" dy="3.7">/</tspan><tspan dy="-3.7">0.5</tspan></text>
<path d="M361.7,326.8h23.4" fill="none" stroke="#00bfbf" stroke-width="2.9" stroke-dasharray="1.25 2.67"/>
<text x="400.4" y="330.8" font-size="15.7">tree</text>
<text class="num" x="436.5" y="330.8" font-size="15.6" letter-spacing="0.5">0.1<tspan font-size="21" dy="3.7">/</tspan><tspan dy="-3.7">0.5</tspan></text>
</g>
<g id="ax1">
<path d="M589.0,283.2H1019.3M589.0,216.5H1019.3M589.0,149.8H1019.3M589.0,83.1H1019.3M727.2,16.4V349.9M925.0,16.4V349.9" fill="none" stroke="#000" stroke-width="0.8" stroke-dasharray="1 2.92" opacity="0.9"/>
<clipPath id="cp1"><rect x="589.0" y="16.4" width="430.30" height="333.50"/></clipPath>
<g clip-path="url(#cp1)" fill="none" stroke-linejoin="round">
<polyline points="589.00,349.90 775.50,349.90 775.81,349.90 775.81,348.40 776.13,348.40 776.13,346.90 776.44,346.90 776.44,345.40 776.76,345.40 776.76,343.90 777.07,343.90 777.07,342.40 777.39,342.40 777.39,340.90 777.70,340.90 777.70,339.40 777.75,339.40 777.75,337.90 777.80,337.90 777.80,336.41 777.85,336.41 777.85,334.91 777.90,334.91 777.90,333.41 777.95,333.41 777.95,331.91 778.00,331.91 778.00,330.42 778.05,330.42 778.05,328.92 778.10,328.92 778.10,327.42 778.15,327.42 778.15,325.92 778.20,325.92 778.20,324.43 778.25,324.43 778.25,322.93 778.30,322.93 778.30,321.43 778.35,321.43 778.35,319.93 778.40,319.93 778.40,318.44 778.45,318.44 778.45,316.94 778.50,316.94 778.50,315.44 778.55,315.44 778.55,313.94 778.60,313.94 778.60,312.45 778.65,312.45 778.65,310.95 778.70,310.95 778.70,309.45 778.75,309.45 778.75,307.96 778.80,307.96 778.80,306.46 778.85,306.46 778.85,304.96 778.90,304.96 778.90,303.46 778.95,303.46 778.95,301.97 779.00,301.97 779.00,300.47 779.05,300.47 779.05,298.97 779.10,298.97 779.10,297.47 779.15,297.47 779.15,295.98 779.20,295.98 779.20,294.48 779.25,294.48 779.25,292.98 779.30,292.98 779.30,291.48 779.35,291.48 779.35,289.99 779.40,289.99 779.40,288.49 779.45,288.49 779.45,286.99 779.50,286.99 779.50,285.49 779.55,285.49 779.55,284.00 779.60,284.00 779.60,282.50 779.65,282.50 779.65,281.06 779.69,281.06 779.69,279.63 779.74,279.63 779.74,278.19 779.79,278.19 779.79,276.76 779.84,276.76 779.84,275.32 779.88,275.32 779.88,273.89 779.93,273.89 779.93,272.45 779.98,272.45 779.98,271.02 780.02,271.02 780.02,269.58 780.07,269.58 780.07,268.15 780.12,268.15 780.12,266.71 780.16,266.71 780.16,265.28 780.21,265.28 780.21,263.84 780.26,263.84 780.26,262.41 780.31,262.41 780.31,260.97 780.35,260.97 780.35,259.54 780.40,259.54 780.40,258.10 781.35,258.10 781.35,256.85 782.30,256.85 782.30,255.60 803.10,255.60 804.40,255.60 804.40,255.03 805.70,255.03 805.70,254.47 807.00,254.47 807.00,253.90 807.75,253.90 807.75,252.68 808.50,252.68 808.50,251.45 809.25,251.45 809.25,250.22 810.00,250.22 810.00,249.00 810.56,249.00 810.56,247.59 811.11,247.59 811.11,246.17 811.67,246.17 811.67,244.76 812.23,244.76 812.23,243.34 812.79,243.34 812.79,241.93 813.34,241.93 813.34,240.51 813.90,240.51 813.90,239.10 814.21,239.10 814.21,237.69 814.51,237.69 814.51,236.28 814.82,236.28 814.82,234.86 815.12,234.86 815.12,233.45 815.43,233.45 815.43,232.04 815.74,232.04 815.74,230.62 816.04,230.62 816.04,229.21 816.35,229.21 816.35,227.80 816.66,227.80 816.66,226.39 816.96,226.39 816.96,224.97 817.27,224.97 817.27,223.56 817.57,223.56 817.57,222.15 817.88,222.15 817.88,220.74 818.19,220.74 818.19,219.32 818.49,219.32 818.49,217.91 818.80,217.91 818.80,216.50 819.08,216.50 819.08,215.04 819.35,215.04 819.35,213.58 819.63,213.58 819.63,212.12 819.90,212.12 819.90,210.66 820.18,210.66 820.18,209.20 820.46,209.20 820.46,207.74 820.73,207.74 820.73,206.28 821.01,206.28 821.01,204.82 821.28,204.82 821.28,203.36 821.56,203.36 821.56,201.90 821.84,201.90 821.84,200.44 822.11,200.44 822.11,198.98 822.39,198.98 822.39,197.52 822.66,197.52 822.66,196.06 822.94,196.06 822.94,194.60 823.22,194.60 823.22,193.14 823.49,193.14 823.49,191.68 823.77,191.68 823.77,190.22 824.04,190.22 824.04,188.76 824.32,188.76 824.32,187.30 824.60,187.30 824.60,185.84 824.87,185.84 824.87,184.38 825.15,184.38 825.15,182.92 825.42,182.92 825.42,181.46 825.70,181.46 825.70,180.00 825.93,180.00 825.93,178.54 826.17,178.54 826.17,177.08 826.40,177.08 826.40,175.61 826.63,175.61 826.63,174.15 826.87,174.15 826.87,172.69 827.10,172.69 827.10,171.23 827.33,171.23 827.33,169.77 827.57,169.77 827.57,168.30 827.80,168.30 827.80,166.84 828.03,166.84 828.03,165.38 828.27,165.38 828.27,163.92 828.50,163.92 828.50,162.46 828.73,162.46 828.73,161.00 828.97,161.00 828.97,159.53 829.20,159.53 829.20,158.07 829.43,158.07 829.43,156.61 829.67,156.61 829.67,155.15 829.90,155.15 829.90,153.69 830.13,153.69 830.13,152.22 830.37,152.22 830.37,150.76 830.60,150.76 830.60,149.30 830.84,149.30 830.84,147.82 831.09,147.82 831.09,146.34 831.33,146.34 831.33,144.85 831.57,144.85 831.57,143.37 831.81,143.37 831.81,141.89 832.06,141.89 832.06,140.41 832.30,140.41 832.30,138.93 832.54,138.93 832.54,137.44 832.79,137.44 832.79,135.96 833.03,135.96 833.03,134.48 833.27,134.48 833.27,133.00 833.51,133.00 833.51,131.51 833.76,131.51 833.76,130.03 834.00,130.03 834.00,128.55 834.24,128.55 834.24,127.07 834.49,127.07 834.49,125.59 834.73,125.59 834.73,124.10 834.97,124.10 834.97,122.62 835.21,122.62 835.21,121.14 835.46,121.14 835.46,119.66 835.70,119.66 835.70,118.17 835.94,118.17 835.94,116.69 836.19,116.69 836.19,115.21 836.43,115.21 836.43,113.73 836.67,113.73 836.67,112.25 836.91,112.25 836.91,110.76 837.16,110.76 837.16,109.28 837.40,109.28 837.40,107.80 837.64,107.80 837.64,106.31 837.88,106.31 837.88,104.81 838.12,104.81 838.12,103.32 838.36,103.32 838.36,101.82 838.61,101.82 838.61,100.33 838.85,100.33 838.85,98.84 839.09,98.84 839.09,97.34 839.33,97.34 839.33,95.85 839.57,95.85 839.57,94.35 839.81,94.35 839.81,92.86 840.05,92.86 840.05,91.36 840.29,91.36 840.29,89.87 840.54,89.87 840.54,88.38 840.78,88.38 840.78,86.88 841.02,86.88 841.02,85.39 841.26,85.39 841.26,83.89 841.50,83.89 841.50,82.40 841.86,82.40 841.86,81.06 842.21,81.06 842.21,79.71 842.57,79.71 842.57,78.37 842.92,78.37 842.92,77.02 843.28,77.02 843.28,75.68 843.63,75.68 843.63,74.33 843.99,74.33 843.99,72.99 844.34,72.99 844.34,71.64 844.70,71.64 844.70,70.30 845.33,70.30 845.33,68.92 845.95,68.92 845.95,67.55 846.58,67.55 846.58,66.17 847.20,66.17 847.20,64.80 847.83,64.80 847.83,63.42 848.45,63.42 848.45,62.05 849.08,62.05 849.08,60.67 849.70,60.67 849.70,59.30 850.93,59.30 850.93,58.38 852.15,58.38 852.15,57.45 853.38,57.45 853.38,56.52 854.60,56.52 854.60,55.60 856.01,55.60 856.01,55.33 857.43,55.33 857.43,55.06 858.84,55.06 858.84,54.79 860.26,54.79 860.26,54.51 861.67,54.51 861.67,54.24 863.09,54.24 863.09,53.97 864.50,53.97 864.50,53.70 865.73,53.70 865.73,53.25 866.95,53.25 866.95,52.80 868.17,52.80 868.17,52.35 869.40,52.35 869.40,51.90 870.88,51.90 870.88,51.64 872.36,51.64 872.36,51.38 873.84,51.38 873.84,51.12 875.32,51.12 875.32,50.86 876.80,50.86 876.80,50.60 878.05,50.60 878.05,49.50 879.30,49.50 879.30,48.40 880.53,48.40 880.53,48.13 881.77,48.13 881.77,47.87 883.00,47.87 883.00,47.60 884.23,47.60 884.23,46.17 885.47,46.17 885.47,44.73 886.70,44.73 886.70,43.30 888.13,43.30 888.13,41.83 889.57,41.83 889.57,40.37 891.00,40.37 891.00,38.90 892.23,38.90 892.23,38.60 893.45,38.60 893.45,38.30 894.67,38.30 894.67,38.00 895.90,38.00 895.90,37.70 896.80,37.70 896.80,36.80 897.70,36.80 897.70,35.90 899.15,35.90 899.15,35.58 900.60,35.58 900.60,35.27 902.05,35.27 902.05,34.95 903.50,34.95 903.50,34.63 904.95,34.63 904.95,34.32 906.40,34.32 906.40,34.00 907.83,34.00 907.83,32.77 909.27,32.77 909.27,31.53 910.70,31.53 910.70,30.30 912.08,30.30 912.08,30.00 913.45,30.00 913.45,29.70 914.83,29.70 914.83,29.40 916.20,29.40 916.20,29.10 917.23,29.10 917.23,28.07 918.27,28.07 918.27,27.03 919.30,27.03 919.30,26.00 920.73,26.00 920.73,25.50 922.17,25.50 922.17,25.00 923.60,25.00 923.60,24.50 924.90,24.50 924.90,24.40 926.20,24.40 926.20,24.30 927.50,24.30 927.50,24.20 928.80,24.20 928.80,24.10 930.10,24.10 930.10,24.00 931.40,24.00 931.40,23.90 932.63,23.90 932.63,23.47 933.87,23.47 933.87,23.03 935.10,23.03 935.10,22.60 936.49,22.60 936.49,22.58 937.88,22.58 937.88,22.55 939.26,22.55 939.26,22.52 940.65,22.52 940.65,22.50 942.04,22.50 942.04,22.48 943.43,22.48 943.43,22.45 944.81,22.45 944.81,22.42 946.20,22.42 946.20,22.40 947.40,22.40 947.40,22.10 948.60,22.10 948.60,21.80 960.90,21.80 961.93,21.80 961.93,21.03 962.97,21.03 962.97,20.27 964.00,20.27 964.00,19.50 965.33,19.50 965.33,19.39 966.66,19.39 966.66,19.27 967.99,19.27 967.99,19.16 969.31,19.16 969.31,19.04 970.64,19.04 970.64,18.93 971.97,18.93 971.97,18.81 973.30,18.81 973.30,18.70 974.76,18.70 974.76,18.68 976.22,18.68 976.22,18.65 977.69,18.65 977.69,18.62 979.15,18.62 979.15,18.60 980.61,18.60 980.61,18.57 982.08,18.57 982.08,18.55 983.54,18.55 983.54,18.52 985.00,18.52 985.00,18.50 986.46,18.50 986.46,18.48 987.92,18.48 987.92,18.45 989.39,18.45 989.39,18.43 990.85,18.43 990.85,18.40 992.31,18.40 992.31,18.38 993.78,18.38 993.78,18.35 995.24,18.35 995.24,18.32 996.70,18.32 996.70,18.30 998.08,18.30 998.08,18.23 999.45,18.23 999.45,18.15 1000.83,18.15 1000.83,18.07 1002.20,18.07 1002.20,18.00 1003.58,18.00 1003.58,17.93 1004.95,17.93 1004.95,17.85 1006.33,17.85 1006.33,17.77 1007.70,17.77 1007.70,17.70 1009.15,17.70 1009.15,17.68 1010.60,17.68 1010.60,17.65 1012.05,17.65 1012.05,17.62 1013.50,17.62 1013.50,17.60 1014.95,17.60 1014.95,17.57 1016.40,17.57 1016.40,17.55 1017.85,17.55 1017.85,17.52 1019.30,17.52 1019.30,17.50" stroke="#0000ff" stroke-width="2.9"/>
<polyline points="589.00,349.90 775.50,349.90 775.81,349.90 775.81,348.40 776.13,348.40 776.13,346.90 776.44,346.90 776.44,345.40 776.76,345.40 776.76,343.90 777.07,343.90 777.07,342.40 777.39,342.40 777.39,340.90 777.70,340.90 777.70,339.40 777.75,339.40 777.75,337.90 777.80,337.90 777.80,336.41 777.85,336.41 777.85,334.91 777.90,334.91 777.90,333.41 777.95,333.41 777.95,331.91 778.00,331.91 778.00,330.42 778.05,330.42 778.05,328.92 778.10,328.92 778.10,327.42 778.15,327.42 778.15,325.92 778.20,325.92 778.20,324.43 778.25,324.43 778.25,322.93 778.30,322.93 778.30,321.43 778.35,321.43 778.35,319.93 778.40,319.93 778.40,318.44 778.45,318.44 778.45,316.94 778.50,316.94 778.50,315.44 778.55,315.44 778.55,313.94 778.60,313.94 778.60,312.45 778.65,312.45 778.65,310.95 778.70,310.95 778.70,309.45 778.75,309.45 778.75,307.96 778.80,307.96 778.80,306.46 778.85,306.46 778.85,304.96 778.90,304.96 778.90,303.46 778.95,303.46 778.95,301.97 779.00,301.97 779.00,300.47 779.05,300.47 779.05,298.97 779.10,298.97 779.10,297.47 779.15,297.47 779.15,295.98 779.20,295.98 779.20,294.48 779.25,294.48 779.25,292.98 779.30,292.98 779.30,291.48 779.35,291.48 779.35,289.99 779.40,289.99 779.40,288.49 779.45,288.49 779.45,286.99 779.50,286.99 779.50,285.49 779.55,285.49 779.55,284.00 779.60,284.00 779.60,282.50 779.65,282.50 779.65,281.06 779.69,281.06 779.69,279.63 779.74,279.63 779.74,278.19 779.79,278.19 779.79,276.76 779.84,276.76 779.84,275.32 779.88,275.32 779.88,273.89 779.93,273.89 779.93,272.45 779.98,272.45 779.98,271.02 780.02,271.02 780.02,269.58 780.07,269.58 780.07,268.15 780.12,268.15 780.12,266.71 780.16,266.71 780.16,265.28 780.21,265.28 780.21,263.84 780.26,263.84 780.26,262.41 780.31,262.41 780.31,260.97 780.35,260.97 780.35,259.54 780.40,259.54 780.40,258.10 781.35,258.10 781.35,256.85 782.30,256.85 782.30,255.60 803.10,255.60 804.40,255.60 804.40,255.03 805.70,255.03 805.70,254.47 807.00,254.47 807.00,253.90 807.75,253.90 807.75,252.68 808.50,252.68 808.50,251.45 809.25,251.45 809.25,250.22 810.00,250.22 810.00,249.00 810.29,249.00 810.29,247.59 810.57,247.59 810.57,246.17 810.86,246.17 810.86,244.76 811.14,244.76 811.14,243.34 811.43,243.34 811.43,241.93 811.71,241.93 811.71,240.51 812.00,240.51 812.00,239.10 812.28,239.10 812.28,237.69 812.56,237.69 812.56,236.28 812.84,236.28 812.84,234.86 813.12,234.86 813.12,233.45 813.41,233.45 813.41,232.04 813.69,232.04 813.69,230.62 813.97,230.62 813.97,229.21 814.25,229.21 814.25,227.80 814.53,227.80 814.53,226.39 814.81,226.39 814.81,224.97 815.09,224.97 815.09,223.56 815.38,223.56 815.38,222.15 815.66,222.15 815.66,220.74 815.94,220.74 815.94,219.32 816.22,219.32 816.22,217.91 816.50,217.91 816.50,216.50 816.79,216.50 816.79,215.03 817.08,215.03 817.08,213.56 817.36,213.56 817.36,212.10 817.65,212.10 817.65,210.63 817.94,210.63 817.94,209.16 818.23,209.16 818.23,207.69 818.52,207.69 818.52,206.22 818.80,206.22 818.80,204.76 819.09,204.76 819.09,203.29 819.38,203.29 819.38,201.82 819.67,201.82 819.67,200.35 819.96,200.35 819.96,198.88 820.24,198.88 820.24,197.42 820.53,197.42 820.53,195.95 820.82,195.95 820.82,194.48 821.11,194.48 821.11,193.01 821.40,193.01 821.40,191.54 821.68,191.54 821.68,190.08 821.97,190.08 821.97,188.61 822.26,188.61 822.26,187.14 822.55,187.14 822.55,185.67 822.84,185.67 822.84,184.20 823.12,184.20 823.12,182.74 823.41,182.74 823.41,181.27 823.70,181.27 823.70,179.80 823.92,179.80 823.92,178.35 824.14,178.35 824.14,176.90 824.36,176.90 824.36,175.44 824.58,175.44 824.58,173.99 824.80,173.99 824.80,172.54 825.01,172.54 825.01,171.09 825.23,171.09 825.23,169.63 825.45,169.63 825.45,168.18 825.67,168.18 825.67,166.73 825.89,166.73 825.89,165.28 826.11,165.28 826.11,163.82 826.33,163.82 826.33,162.37 826.55,162.37 826.55,160.92 826.77,160.92 826.77,159.47 826.99,159.47 826.99,158.01 827.20,158.01 827.20,156.56 827.42,156.56 827.42,155.11 827.64,155.11 827.64,153.66 827.86,153.66 827.86,152.20 828.08,152.20 828.08,150.75 828.30,150.75 828.30,149.30 828.51,149.30 828.51,147.82 828.73,147.82 828.73,146.34 828.94,146.34 828.94,144.85 829.16,144.85 829.16,143.37 829.37,143.37 829.37,141.89 829.59,141.89 829.59,140.41 829.80,140.41 829.80,138.93 830.01,138.93 830.01,137.44 830.23,137.44 830.23,135.96 830.44,135.96 830.44,134.48 830.66,134.48 830.66,133.00 830.87,133.00 830.87,131.51 831.09,131.51 831.09,130.03 831.30,130.03 831.30,128.55 831.51,128.55 831.51,127.07 831.73,127.07 831.73,125.59 831.94,125.59 831.94,124.10 832.16,124.10 832.16,122.62 832.37,122.62 832.37,121.14 832.59,121.14 832.59,119.66 832.80,119.66 832.80,118.17 833.01,118.17 833.01,116.69 833.23,116.69 833.23,115.21 833.44,115.21 833.44,113.73 833.66,113.73 833.66,112.25 833.87,112.25 833.87,110.76 834.09,110.76 834.09,109.28 834.30,109.28 834.30,107.80 834.51,107.80 834.51,106.31 834.72,106.31 834.72,104.81 834.94,104.81 834.94,103.32 835.15,103.32 835.15,101.82 835.36,101.82 835.36,100.33 835.57,100.33 835.57,98.84 835.78,98.84 835.78,97.34 835.99,97.34 835.99,95.85 836.21,95.85 836.21,94.35 836.42,94.35 836.42,92.86 836.63,92.86 836.63,91.36 836.84,91.36 836.84,89.87 837.05,89.87 837.05,88.38 837.26,88.38 837.26,86.88 837.48,86.88 837.48,85.39 837.69,85.39 837.69,83.89 837.90,83.89 837.90,82.40 838.31,82.40 838.31,80.99 838.72,80.99 838.72,79.58 839.12,79.58 839.12,78.18 839.53,78.18 839.53,76.77 839.94,76.77 839.94,75.36 840.35,75.36 840.35,73.95 840.76,73.95 840.76,72.54 841.17,72.54 841.17,71.13 841.57,71.13 841.57,69.72 841.98,69.72 841.98,68.32 842.39,68.32 842.39,66.91 842.80,66.91 842.80,65.50 843.30,65.50 843.30,64.10 843.80,64.10 843.80,62.70 844.30,62.70 844.30,61.30 844.80,61.30 844.80,59.90 846.03,59.90 846.03,58.67 847.27,58.67 847.27,57.43 848.50,57.43 848.50,56.20 849.73,56.20 849.73,56.00 850.97,56.00 850.97,55.80 852.20,55.80 852.20,55.60 853.63,55.60 853.63,54.17 855.07,54.17 855.07,52.73 856.50,52.73 856.50,51.30 857.88,51.30 857.88,50.20 859.25,50.20 859.25,49.10 860.62,49.10 860.62,48.00 862.00,48.00 862.00,46.90 862.82,46.90 862.82,45.47 863.63,45.47 863.63,44.03 864.45,44.03 864.45,42.60 865.27,42.60 865.27,41.17 866.08,41.17 866.08,39.73 866.90,39.73 866.90,38.30 867.52,38.30 867.52,36.87 868.13,36.87 868.13,35.43 868.75,35.43 868.75,34.00 869.37,34.00 869.37,32.57 869.98,32.57 869.98,31.13 870.60,31.13 870.60,29.70 871.60,29.70 871.60,28.22 872.60,28.22 872.60,26.74 873.60,26.74 873.60,25.26 874.60,25.26 874.60,23.78 875.60,23.78 875.60,22.30 876.83,22.30 876.83,20.88 878.05,20.88 878.05,19.45 879.27,19.45 879.27,18.03 880.50,18.03 880.50,16.60" stroke="#008000" stroke-width="2.9" stroke-dasharray="6.2 5.55"/>
<polyline points="589.00,349.90 661.70,349.90 662.00,349.90 662.00,348.40 662.30,348.40 662.30,346.90 662.60,346.90 662.60,345.40 662.90,345.40 662.90,343.90 663.20,343.90 663.20,342.40 663.50,342.40 663.50,340.90 663.80,340.90 663.80,339.40 663.88,339.40 663.88,337.93 663.96,337.93 663.96,336.47 664.04,336.47 664.04,335.00 664.12,335.00 664.12,333.53 664.20,333.53 664.20,332.07 664.27,332.07 664.27,330.60 664.35,330.60 664.35,329.13 664.43,329.13 664.43,327.67 664.51,327.67 664.51,326.20 664.59,326.20 664.59,324.73 664.67,324.73 664.67,323.27 664.75,323.27 664.75,321.80 664.83,321.80 664.83,320.33 664.91,320.33 664.91,318.87 664.99,318.87 664.99,317.40 665.07,317.40 665.07,315.93 665.15,315.93 665.15,314.47 665.23,314.47 665.23,313.00 665.30,313.00 665.30,311.53 665.38,311.53 665.38,310.07 665.46,310.07 665.46,308.60 665.54,308.60 665.54,307.13 665.62,307.13 665.62,305.67 665.70,305.67 665.70,304.20 665.75,304.20 665.75,302.77 665.79,302.77 665.79,301.35 665.84,301.35 665.84,299.92 665.89,299.92 665.89,298.49 665.94,298.49 665.94,297.07 665.98,297.07 665.98,295.64 666.03,295.64 666.03,294.22 666.08,294.22 666.08,292.79 666.13,292.79 666.13,291.36 666.17,291.36 666.17,289.94 666.22,289.94 666.22,288.51 666.27,288.51 666.27,287.08 666.32,287.08 666.32,285.66 666.36,285.66 666.36,284.23 666.41,284.23 666.41,282.81 666.46,282.81 666.46,281.38 666.51,281.38 666.51,279.95 666.55,279.95 666.55,278.53 666.60,278.53 666.60,277.10 666.65,277.10 666.65,275.67 666.71,275.67 666.71,274.25 666.76,274.25 666.76,272.82 666.81,272.82 666.81,271.39 666.86,271.39 666.86,269.97 666.92,269.97 666.92,268.54 666.97,268.54 666.97,267.12 667.02,267.12 667.02,265.69 667.07,265.69 667.07,264.26 667.13,264.26 667.13,262.84 667.18,262.84 667.18,261.41 667.23,261.41 667.23,259.98 667.28,259.98 667.28,258.56 667.34,258.56 667.34,257.13 667.39,257.13 667.39,255.71 667.44,255.71 667.44,254.28 667.49,254.28 667.49,252.85 667.55,252.85 667.55,251.43 667.60,251.43 667.60,250.00 667.63,250.00 667.63,248.52 667.65,248.52 667.65,247.04 667.68,247.04 667.68,245.56 667.70,245.56 667.70,244.07 667.73,244.07 667.73,242.59 667.76,242.59 667.76,241.11 667.78,241.11 667.78,239.63 667.81,239.63 667.81,238.15 667.83,238.15 667.83,236.67 667.86,236.67 667.86,235.19 667.89,235.19 667.89,233.70 667.91,233.70 667.91,232.22 667.94,232.22 667.94,230.74 667.96,230.74 667.96,229.26 667.99,229.26 667.99,227.78 668.01,227.78 668.01,226.30 668.04,226.30 668.04,224.81 668.07,224.81 668.07,223.33 668.09,223.33 668.09,221.85 668.12,221.85 668.12,220.37 668.14,220.37 668.14,218.89 668.17,218.89 668.17,217.41 668.20,217.41 668.20,215.93 668.22,215.93 668.22,214.44 668.25,214.44 668.25,212.96 668.27,212.96 668.27,211.48 668.30,211.48 668.30,210.00 668.33,210.00 668.33,208.52 668.35,208.52 668.35,207.04 668.38,207.04 668.38,205.56 668.40,205.56 668.40,204.07 668.43,204.07 668.43,202.59 668.46,202.59 668.46,201.11 668.48,201.11 668.48,199.63 668.51,199.63 668.51,198.15 668.53,198.15 668.53,196.67 668.56,196.67 668.56,195.19 668.59,195.19 668.59,193.70 668.61,193.70 668.61,192.22 668.64,192.22 668.64,190.74 668.66,190.74 668.66,189.26 668.69,189.26 668.69,187.78 668.71,187.78 668.71,186.30 668.74,186.30 668.74,184.81 668.77,184.81 668.77,183.33 668.79,183.33 668.79,181.85 668.82,181.85 668.82,180.37 668.84,180.37 668.84,178.89 668.87,178.89 668.87,177.41 668.90,177.41 668.90,175.93 668.92,175.93 668.92,174.44 668.95,174.44 668.95,172.96 668.97,172.96 668.97,171.48 669.00,171.48 669.00,170.00 669.03,170.00 669.03,168.52 669.06,168.52 669.06,167.05 669.09,167.05 669.09,165.57 669.12,165.57 669.12,164.09 669.15,164.09 669.15,162.62 669.17,162.62 669.17,161.14 669.20,161.14 669.20,159.67 669.23,159.67 669.23,158.19 669.26,158.19 669.26,156.71 669.29,156.71 669.29,155.24 669.32,155.24 669.32,153.76 669.35,153.76 669.35,152.28 669.38,152.28 669.38,150.81 669.41,150.81 669.41,149.33 669.44,149.33 669.44,147.85 669.47,147.85 669.47,146.38 669.49,146.38 669.49,144.90 669.52,144.90 669.52,143.43 669.55,143.43 669.55,141.95 669.58,141.95 669.58,140.47 669.61,140.47 669.61,139.00 669.64,139.00 669.64,137.52 669.67,137.52 669.67,136.04 669.70,136.04 669.70,134.57 669.73,134.57 669.73,133.09 669.76,133.09 669.76,131.61 669.79,131.61 669.79,130.14 669.81,130.14 669.81,128.66 669.84,128.66 669.84,127.19 669.87,127.19 669.87,125.71 669.90,125.71 669.90,124.23 669.93,124.23 669.93,122.76 669.96,122.76 669.96,121.28 669.99,121.28 669.99,119.80 670.02,119.80 670.02,118.33 670.05,118.33 670.05,116.85 670.08,116.85 670.08,115.37 670.11,115.37 670.11,113.90 670.13,113.90 670.13,112.42 670.16,112.42 670.16,110.95 670.19,110.95 670.19,109.47 670.22,109.47 670.22,107.99 670.25,107.99 670.25,106.52 670.28,106.52 670.28,105.04 670.31,105.04 670.31,103.56 670.34,103.56 670.34,102.09 670.37,102.09 670.37,100.61 670.40,100.61 670.40,99.13 670.43,99.13 670.43,97.66 670.45,97.66 670.45,96.18 670.48,96.18 670.48,94.71 670.51,94.71 670.51,93.23 670.54,93.23 670.54,91.75 670.57,91.75 670.57,90.28 670.60,90.28 670.60,88.80 670.67,88.80 670.67,87.39 670.74,87.39 670.74,85.99 670.81,85.99 670.81,84.58 670.89,84.58 670.89,83.17 670.96,83.17 670.96,81.76 671.03,81.76 671.03,80.36 671.10,80.36 671.10,78.95 671.17,78.95 671.17,77.54 671.24,77.54 671.24,76.14 671.31,76.14 671.31,74.73 671.39,74.73 671.39,73.32 671.46,73.32 671.46,71.91 671.53,71.91 671.53,70.51 671.60,70.51 671.60,69.10 671.67,69.10 671.67,67.69 671.74,67.69 671.74,66.29 671.81,66.29 671.81,64.88 671.89,64.88 671.89,63.47 671.96,63.47 671.96,62.06 672.03,62.06 672.03,60.66 672.10,60.66 672.10,59.25 672.17,59.25 672.17,57.84 672.24,57.84 672.24,56.44 672.31,56.44 672.31,55.03 672.39,55.03 672.39,53.62 672.46,53.62 672.46,52.21 672.53,52.21 672.53,50.81 672.60,50.81 672.60,49.40 672.76,49.40 672.76,48.02 672.92,48.02 672.92,46.64 673.08,46.64 673.08,45.26 673.24,45.26 673.24,43.88 673.40,43.88 673.40,42.50 673.56,42.50 673.56,41.12 673.72,41.12 673.72,39.74 673.88,39.74 673.88,38.36 674.04,38.36 674.04,36.98 674.20,36.98 674.20,35.60 674.55,35.60 674.55,34.12 674.90,34.12 674.90,32.65 675.25,32.65 675.25,31.18 675.60,31.18 675.60,29.70 676.23,29.70 676.23,28.27 676.87,28.27 676.87,26.83 677.50,26.83 677.50,25.40 678.88,25.40 678.88,24.68 680.26,24.68 680.26,23.96 681.64,23.96 681.64,23.24 683.02,23.24 683.02,22.52 684.40,22.52 684.40,21.80 685.88,21.80 685.88,21.07 687.35,21.07 687.35,20.35 688.82,20.35 688.82,19.62 690.30,19.62 690.30,18.90 691.69,18.90 691.69,18.81 693.07,18.81 693.07,18.73 694.46,18.73 694.46,18.64 695.84,18.64 695.84,18.56 697.23,18.56 697.23,18.47 698.61,18.47 698.61,18.39 700.00,18.39 700.00,18.30 701.43,18.30 701.43,18.28 702.87,18.28 702.87,18.27 704.30,18.27 704.30,18.25 705.73,18.25 705.73,18.23 707.17,18.23 707.17,18.22 708.60,18.22 708.60,18.20 710.03,18.20 710.03,18.18 711.47,18.18 711.47,18.17 712.90,18.17 712.90,18.15 714.33,18.15 714.33,18.13 715.77,18.13 715.77,18.12 717.20,18.12 717.20,18.10 718.63,18.10 718.63,18.08 720.07,18.08 720.07,18.07 721.50,18.07 721.50,18.05 722.93,18.05 722.93,18.03 724.37,18.03 724.37,18.02 725.80,18.02 725.80,18.00" stroke="#ff0000" stroke-width="2.9" stroke-dasharray="3.3 4.6 1.3 4.5"/>
<polyline points="589.00,349.90 661.70,349.90 662.00,349.90 662.00,348.40 662.30,348.40 662.30,346.90 662.60,346.90 662.60,345.40 662.90,345.40 662.90,343.90 663.20,343.90 663.20,342.40 663.50,342.40 663.50,340.90 663.80,340.90 663.80,339.40 663.88,339.40 663.88,337.93 663.96,337.93 663.96,336.47 664.04,336.47 664.04,335.00 664.12,335.00 664.12,333.53 664.20,333.53 664.20,332.07 664.27,332.07 664.27,330.60 664.35,330.60 664.35,329.13 664.43,329.13 664.43,327.67 664.51,327.67 664.51,326.20 664.59,326.20 664.59,324.73 664.67,324.73 664.67,323.27 664.75,323.27 664.75,321.80 664.83,321.80 664.83,320.33 664.91,320.33 664.91,318.87 664.99,318.87 664.99,317.40 665.07,317.40 665.07,315.93 665.15,315.93 665.15,314.47 665.23,314.47 665.23,313.00 665.30,313.00 665.30,311.53 665.38,311.53 665.38,310.07 665.46,310.07 665.46,308.60 665.54,308.60 665.54,307.13 665.62,307.13 665.62,305.67 665.70,305.67 665.70,304.20 665.75,304.20 665.75,302.77 665.79,302.77 665.79,301.35 665.84,301.35 665.84,299.92 665.89,299.92 665.89,298.49 665.94,298.49 665.94,297.07 665.98,297.07 665.98,295.64 666.03,295.64 666.03,294.22 666.08,294.22 666.08,292.79 666.13,292.79 666.13,291.36 666.17,291.36 666.17,289.94 666.22,289.94 666.22,288.51 666.27,288.51 666.27,287.08 666.32,287.08 666.32,285.66 666.36,285.66 666.36,284.23 666.41,284.23 666.41,282.81 666.46,282.81 666.46,281.38 666.51,281.38 666.51,279.95 666.55,279.95 666.55,278.53 666.60,278.53 666.60,277.10 666.65,277.10 666.65,275.67 666.71,275.67 666.71,274.25 666.76,274.25 666.76,272.82 666.81,272.82 666.81,271.39 666.86,271.39 666.86,269.97 666.92,269.97 666.92,268.54 666.97,268.54 666.97,267.12 667.02,267.12 667.02,265.69 667.07,265.69 667.07,264.26 667.13,264.26 667.13,262.84 667.18,262.84 667.18,261.41 667.23,261.41 667.23,259.98 667.28,259.98 667.28,258.56 667.34,258.56 667.34,257.13 667.39,257.13 667.39,255.71 667.44,255.71 667.44,254.28 667.49,254.28 667.49,252.85 667.55,252.85 667.55,251.43 667.60,251.43 667.60,250.00 667.63,250.00 667.63,248.52 667.65,248.52 667.65,247.04 667.68,247.04 667.68,245.56 667.70,245.56 667.70,244.07 667.73,244.07 667.73,242.59 667.76,242.59 667.76,241.11 667.78,241.11 667.78,239.63 667.81,239.63 667.81,238.15 667.83,238.15 667.83,236.67 667.86,236.67 667.86,235.19 667.89,235.19 667.89,233.70 667.91,233.70 667.91,232.22 667.94,232.22 667.94,230.74 667.96,230.74 667.96,229.26 667.99,229.26 667.99,227.78 668.01,227.78 668.01,226.30 668.04,226.30 668.04,224.81 668.07,224.81 668.07,223.33 668.09,223.33 668.09,221.85 668.12,221.85 668.12,220.37 668.14,220.37 668.14,218.89 668.17,218.89 668.17,217.41 668.20,217.41 668.20,215.93 668.22,215.93 668.22,214.44 668.25,214.44 668.25,212.96 668.27,212.96 668.27,211.48 668.30,211.48 668.30,210.00 668.33,210.00 668.33,208.52 668.35,208.52 668.35,207.04 668.38,207.04 668.38,205.56 668.40,205.56 668.40,204.07 668.43,204.07 668.43,202.59 668.46,202.59 668.46,201.11 668.48,201.11 668.48,199.63 668.51,199.63 668.51,198.15 668.53,198.15 668.53,196.67 668.56,196.67 668.56,195.19 668.59,195.19 668.59,193.70 668.61,193.70 668.61,192.22 668.64,192.22 668.64,190.74 668.66,190.74 668.66,189.26 668.69,189.26 668.69,187.78 668.71,187.78 668.71,186.30 668.74,186.30 668.74,184.81 668.77,184.81 668.77,183.33 668.79,183.33 668.79,181.85 668.82,181.85 668.82,180.37 668.84,180.37 668.84,178.89 668.87,178.89 668.87,177.41 668.90,177.41 668.90,175.93 668.92,175.93 668.92,174.44 668.95,174.44 668.95,172.96 668.97,172.96 668.97,171.48 669.00,171.48 669.00,170.00 669.03,170.00 669.03,168.52 669.06,168.52 669.06,167.05 669.09,167.05 669.09,165.57 669.12,165.57 669.12,164.09 669.15,164.09 669.15,162.62 669.17,162.62 669.17,161.14 669.20,161.14 669.20,159.67 669.23,159.67 669.23,158.19 669.26,158.19 669.26,156.71 669.29,156.71 669.29,155.24 669.32,155.24 669.32,153.76 669.35,153.76 669.35,152.28 669.38,152.28 669.38,150.81 669.41,150.81 669.41,149.33 669.44,149.33 669.44,147.85 669.47,147.85 669.47,146.38 669.49,146.38 669.49,144.90 669.52,144.90 669.52,143.43 669.55,143.43 669.55,141.95 669.58,141.95 669.58,140.47 669.61,140.47 669.61,139.00 669.64,139.00 669.64,137.52 669.67,137.52 669.67,136.04 669.70,136.04 669.70,134.57 669.73,134.57 669.73,133.09 669.76,133.09 669.76,131.61 669.79,131.61 669.79,130.14 669.81,130.14 669.81,128.66 669.84,128.66 669.84,127.19 669.87,127.19 669.87,125.71 669.90,125.71 669.90,124.23 669.93,124.23 669.93,122.76 669.96,122.76 669.96,121.28 669.99,121.28 669.99,119.80 670.02,119.80 670.02,118.33 670.05,118.33 670.05,116.85 670.08,116.85 670.08,115.37 670.11,115.37 670.11,113.90 670.13,113.90 670.13,112.42 670.16,112.42 670.16,110.95 670.19,110.95 670.19,109.47 670.22,109.47 670.22,107.99 670.25,107.99 670.25,106.52 670.28,106.52 670.28,105.04 670.31,105.04 670.31,103.56 670.34,103.56 670.34,102.09 670.37,102.09 670.37,100.61 670.40,100.61 670.40,99.13 670.43,99.13 670.43,97.66 670.45,97.66 670.45,96.18 670.48,96.18 670.48,94.71 670.51,94.71 670.51,93.23 670.54,93.23 670.54,91.75 670.57,91.75 670.57,90.28 670.60,90.28 670.60,88.80 670.67,88.80 670.67,87.39 670.74,87.39 670.74,85.99 670.81,85.99 670.81,84.58 670.89,84.58 670.89,83.17 670.96,83.17 670.96,81.76 671.03,81.76 671.03,80.36 671.10,80.36 671.10,78.95 671.17,78.95 671.17,77.54 671.24,77.54 671.24,76.14 671.31,76.14 671.31,74.73 671.39,74.73 671.39,73.32 671.46,73.32 671.46,71.91 671.53,71.91 671.53,70.51 671.60,70.51 671.60,69.10 671.67,69.10 671.67,67.69 671.74,67.69 671.74,66.29 671.81,66.29 671.81,64.88 671.89,64.88 671.89,63.47 671.96,63.47 671.96,62.06 672.03,62.06 672.03,60.66 672.10,60.66 672.10,59.25 672.17,59.25 672.17,57.84 672.24,57.84 672.24,56.44 672.31,56.44 672.31,55.03 672.39,55.03 672.39,53.62 672.46,53.62 672.46,52.21 672.53,52.21 672.53,50.81 672.60,50.81 672.60,49.40 672.76,49.40 672.76,48.02 672.92,48.02 672.92,46.64 673.08,46.64 673.08,45.26 673.24,45.26 673.24,43.88 673.40,43.88 673.40,42.50 673.56,42.50 673.56,41.12 673.72,41.12 673.72,39.74 673.88,39.74 673.88,38.36 674.04,38.36 674.04,36.98 674.20,36.98 674.20,35.60 675.03,35.60 675.03,34.12 675.85,34.12 675.85,32.65 676.67,32.65 676.67,31.18 677.50,31.18 677.50,29.70 678.98,29.70 678.98,29.30 680.47,29.30 680.47,28.90 681.95,28.90 681.95,28.50 683.43,28.50 683.43,28.10 684.92,28.10 684.92,27.70 686.40,27.70 686.40,27.30 687.88,27.30 687.88,26.99 689.35,26.99 689.35,26.68 690.83,26.68 690.83,26.36 692.30,26.36 692.30,26.05 693.77,26.05 693.77,25.74 695.25,25.74 695.25,25.43 696.73,25.43 696.73,25.11 698.20,25.11 698.20,24.80 699.61,24.80 699.61,24.73 701.01,24.73 701.01,24.66 702.42,24.66 702.42,24.59 703.83,24.59 703.83,24.51 705.24,24.51 705.24,24.44 706.64,24.44 706.64,24.37 708.05,24.37 708.05,24.30 709.46,24.30 709.46,24.23 710.86,24.23 710.86,24.16 712.27,24.16 712.27,24.09 713.68,24.09 713.68,24.01 715.09,24.01 715.09,23.94 716.49,23.94 716.49,23.87 717.90,23.87 717.90,23.80 719.28,23.80 719.28,23.20 720.66,23.20 720.66,22.60 722.04,22.60 722.04,22.00 723.42,22.00 723.42,21.40 724.80,21.40 724.80,20.80 726.05,20.80 726.05,20.18 727.30,20.18 727.30,19.55 728.55,19.55 728.55,18.93 729.80,18.93 729.80,18.30 731.21,18.30 731.21,18.25 732.61,18.25 732.61,18.20 734.02,18.20 734.02,18.15 735.43,18.15 735.43,18.10 736.84,18.10 736.84,18.05 738.24,18.05 738.24,18.00 739.65,18.00 739.65,17.95 741.06,17.95 741.06,17.90 742.46,17.90 742.46,17.85 743.87,17.85 743.87,17.80 745.28,17.80 745.28,17.75 746.69,17.75 746.69,17.70 748.09,17.70 748.09,17.65 749.50,17.65 749.50,17.60" stroke="#00bfbf" stroke-width="2.9" stroke-dasharray="1.25 2.67"/>
</g>
<path d="M589.0,349.9h4.4M1019.3,349.9h-4.4M589.0,283.2h4.4M1019.3,283.2h-4.4M589.0,216.5h4.4M1019.3,216.5h-4.4M589.0,149.8h4.4M1019.3,149.8h-4.4M589.0,83.1h4.4M1019.3,83.1h-4.4M589.0,16.4h4.4M1019.3,16.4h-4.4M727.2,349.9v-4.4M727.2,16.4v4.4M925.0,349.9v-4.4M925.0,16.4v4.4M589.0,349.9v-2.0M589.0,16.4v2.0M623.8,349.9v-2.0M623.8,16.4v2.0M648.5,349.9v-2.0M648.5,16.4v2.0M667.7,349.9v-2.0M667.7,16.4v2.0M683.3,349.9v-2.0M683.3,16.4v2.0M696.6,349.9v-2.0M696.6,16.4v2.0M708.1,349.9v-2.0M708.1,16.4v2.0M718.2,349.9v-2.0M718.2,16.4v2.0M786.7,349.9v-2.0M786.7,16.4v2.0M821.6,349.9v-2.0M821.6,16.4v2.0M846.3,349.9v-2.0M846.3,16.4v2.0M865.4,349.9v-2.0M865.4,16.4v2.0M881.1,349.9v-2.0M881.1,16.4v2.0M894.3,349.9v-2.0M894.3,16.4v2.0M905.8,349.9v-2.0M905.8,16.4v2.0M915.9,349.9v-2.0M915.9,16.4v2.0M984.5,349.9v-2.0M984.5,16.4v2.0M1019.3,349.9v-2.0M1019.3,16.4v2.0" fill="none" stroke="#000" stroke-width="0.8"/>
<rect x="589.0" y="16.4" width="430.3" height="333.5" fill="none" stroke="#000" stroke-width="1.3"/>
<text transform="translate(588.8,357.7) scale(1.05,1)" font-size="20.5" text-anchor="end">0</text>
<text transform="translate(588.8,291.0) scale(1.05,1)" font-size="20.5" text-anchor="end">20</text>
<text transform="translate(588.8,224.3) scale(1.05,1)" font-size="20.5" text-anchor="end">40</text>
<text transform="translate(588.8,157.6) scale(1.05,1)" font-size="20.5" text-anchor="end">60</text>
<text transform="translate(588.8,90.9) scale(1.05,1)" font-size="20.5" text-anchor="end">80</text>
<text transform="translate(588.8,24.2) scale(1.05,1)" font-size="20.5" text-anchor="end">100</text>
<text transform="translate(707.3,376.7) scale(1.03,1)" font-size="20.5">10<tspan font-size="15.0" dx="0.3" dy="-12.6">0</tspan></text>
<text transform="translate(905.0,376.7) scale(1.03,1)" font-size="20.5">10<tspan font-size="15.0" dx="0.3" dy="-12.6">1</tspan></text>
<text x="804.8" y="399.0" font-size="21.1" text-anchor="middle">time (s)</text>
<g transform="translate(540.65,183.15) rotate(-90)" font-size="21.1"><text x="-108.6" y="0">instances solved</text><text transform="translate(75.3,0) scale(0.9,1)">(%)</text></g>
<rect x="868.5" y="242.85" width="143.1" height="99.25" fill="#fff" stroke="#000" stroke-width="1.3"/>
<path d="M878.0,256.1h24.3" fill="none" stroke="#0000ff" stroke-width="2.9"/>
<text x="917.6" y="260.4" font-size="15.7">path</text>
<text class="num" x="957.4" y="260.4" font-size="15.6" letter-spacing="0.5">0.5<tspan font-size="21" dy="3.7">/</tspan><tspan dy="-3.7">0.1</tspan></text>
<path d="M879.0,279.9h23.4" fill="none" stroke="#008000" stroke-width="2.9" stroke-dasharray="6.2 5.55"/>
<text x="917.6" y="283.9" font-size="15.7">tree</text>
<text class="num" x="953.8" y="283.9" font-size="15.6" letter-spacing="0.5">0.5<tspan font-size="21" dy="3.7">/</tspan><tspan dy="-3.7">0.1</tspan></text>
<path d="M879.0,303.3h23.4" fill="none" stroke="#ff0000" stroke-width="2.9" stroke-dasharray="3.3 4.6 1.3 4.5"/>
<text x="917.6" y="307.3" font-size="15.7">path</text>
<text class="num" x="957.4" y="307.3" font-size="15.6" letter-spacing="0.5">0.1<tspan font-size="21" dy="3.7">/</tspan><tspan dy="-3.7">0.5</tspan></text>
<path d="M879.0,326.8h23.4" fill="none" stroke="#00bfbf" stroke-width="2.9" stroke-dasharray="1.25 2.67"/>
<text x="917.6" y="330.8" font-size="15.7">tree</text>
<text class="num" x="953.8" y="330.8" font-size="15.6" letter-spacing="0.5">0.1<tspan font-size="21" dy="3.7">/</tspan><tspan dy="-3.7">0.5</tspan></text>
</g>
</svg></body></html>
